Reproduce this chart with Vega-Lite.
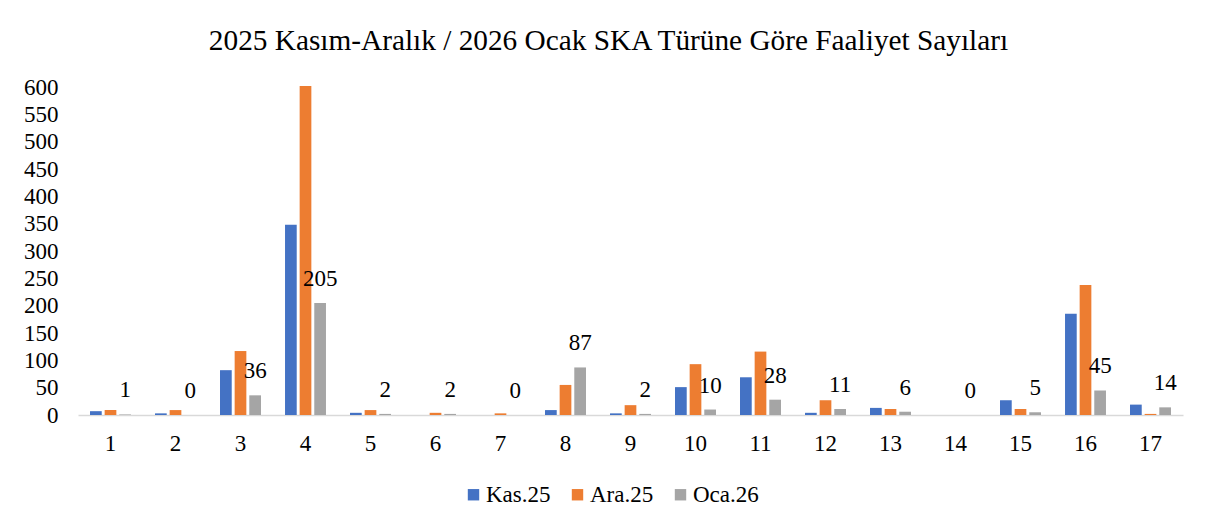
{
  "$schema": "https://vega.github.io/schema/vega-lite/v6.json",
  "width": 1105,
  "height": 328,
  "autosize": {"type": "none"},
  "padding": {"left": 78, "top": 87, "right": 32, "bottom": 115},
  "background": "white",
  "title": {
    "text": "2025 Kasım-Aralık / 2026 Ocak SKA Türüne Göre Faaliyet Sayıları",
    "font": "Liberation Serif",
    "fontSize": 29.3,
    "fontWeight": "normal",
    "color": "#000000",
    "anchor": "middle",
    "dx": -22,
    "offset": 20
  },
  "config": {
    "view": {"stroke": null},
    "font": "Liberation Serif",
    "axis": {"labelFont": "Liberation Serif"},
    "legend": {"labelFont": "Liberation Serif"},
    "text": {"font": "Liberation Serif"}
  },
  "data": {
    "values": [
      {"g": 1, "s": "Kas.25", "v": 7}, {"g": 1, "s": "Ara.25", "v": 9}, {"g": 1, "s": "Oca.26", "v": 1},
      {"g": 2, "s": "Kas.25", "v": 3}, {"g": 2, "s": "Ara.25", "v": 9}, {"g": 2, "s": "Oca.26", "v": 0},
      {"g": 3, "s": "Kas.25", "v": 82}, {"g": 3, "s": "Ara.25", "v": 117}, {"g": 3, "s": "Oca.26", "v": 36},
      {"g": 4, "s": "Kas.25", "v": 348}, {"g": 4, "s": "Ara.25", "v": 602}, {"g": 4, "s": "Oca.26", "v": 205},
      {"g": 5, "s": "Kas.25", "v": 4}, {"g": 5, "s": "Ara.25", "v": 9}, {"g": 5, "s": "Oca.26", "v": 2},
      {"g": 6, "s": "Kas.25", "v": 0}, {"g": 6, "s": "Ara.25", "v": 4}, {"g": 6, "s": "Oca.26", "v": 2},
      {"g": 7, "s": "Kas.25", "v": 0}, {"g": 7, "s": "Ara.25", "v": 3}, {"g": 7, "s": "Oca.26", "v": 0},
      {"g": 8, "s": "Kas.25", "v": 9}, {"g": 8, "s": "Ara.25", "v": 55}, {"g": 8, "s": "Oca.26", "v": 87},
      {"g": 9, "s": "Kas.25", "v": 3}, {"g": 9, "s": "Ara.25", "v": 18}, {"g": 9, "s": "Oca.26", "v": 2},
      {"g": 10, "s": "Kas.25", "v": 51}, {"g": 10, "s": "Ara.25", "v": 93}, {"g": 10, "s": "Oca.26", "v": 10},
      {"g": 11, "s": "Kas.25", "v": 69}, {"g": 11, "s": "Ara.25", "v": 116}, {"g": 11, "s": "Oca.26", "v": 28},
      {"g": 12, "s": "Kas.25", "v": 4}, {"g": 12, "s": "Ara.25", "v": 27}, {"g": 12, "s": "Oca.26", "v": 11},
      {"g": 13, "s": "Kas.25", "v": 13}, {"g": 13, "s": "Ara.25", "v": 11}, {"g": 13, "s": "Oca.26", "v": 6},
      {"g": 14, "s": "Kas.25", "v": 0}, {"g": 14, "s": "Ara.25", "v": 0}, {"g": 14, "s": "Oca.26", "v": 0},
      {"g": 15, "s": "Kas.25", "v": 27}, {"g": 15, "s": "Ara.25", "v": 11}, {"g": 15, "s": "Oca.26", "v": 5},
      {"g": 16, "s": "Kas.25", "v": 185}, {"g": 16, "s": "Ara.25", "v": 238}, {"g": 16, "s": "Oca.26", "v": 45},
      {"g": 17, "s": "Kas.25", "v": 19}, {"g": 17, "s": "Ara.25", "v": 2}, {"g": 17, "s": "Oca.26", "v": 14}
    ]
  },
  "encoding": {
    "x": {
      "field": "g",
      "type": "ordinal",
      "scale": {"paddingInner": 0.37, "paddingOuter": 0.185},
      "axis": {
        "title": null,
        "labelAngle": 0,
        "labelFont": "Liberation Serif",
        "labelFontSize": 23,
        "labelColor": "#000000",
        "labelPadding": 17,
        "ticks": false,
        "domainColor": "#D9D9D9",
        "domainWidth": 1.5
      }
    },
    "xOffset": {
      "field": "s",
      "type": "nominal",
      "sort": ["Kas.25", "Ara.25", "Oca.26"],
      "scale": {"domain": ["Kas.25", "Ara.25", "Oca.26"], "paddingInner": 0.2, "paddingOuter": 0}
    },
    "y": {
      "field": "v",
      "type": "quantitative",
      "scale": {"domain": [0, 600], "nice": false},
      "axis": {
        "title": null,
        "values": [0, 50, 100, 150, 200, 250, 300, 350, 400, 450, 500, 550, 600],
        "grid": false,
        "domain": false,
        "ticks": false,
        "labelFont": "Liberation Serif",
        "labelFontSize": 23,
        "labelColor": "#000000",
        "labelPadding": 20
      }
    }
  },
  "layer": [
    {
      "mark": {"type": "bar"},
      "encoding": {
        "color": {
          "field": "s",
          "type": "nominal",
          "sort": ["Kas.25", "Ara.25", "Oca.26"],
          "scale": {"domain": ["Kas.25", "Ara.25", "Oca.26"], "range": ["#4472C4", "#ED7D31", "#A5A5A5"]},
          "legend": {
            "title": null,
            "orient": "none",
            "direction": "horizontal",
            "legendX": 384,
            "legendY": 396,
            "symbolType": "square",
            "symbolSize": 130,
            "symbolStrokeWidth": 0,
            "labelFont": "Liberation Serif",
            "labelFontSize": 23,
            "labelColor": "#000000",
            "labelOffset": 1,
            "columnPadding": 15
          }
        }
      }
    },
    {
      "transform": [{"filter": "datum.s === 'Oca.26'"}],
      "mark": {
        "type": "text",
        "font": "Liberation Serif",
        "fontSize": 23,
        "color": "#000000",
        "baseline": "alphabetic",
        "dy": -17
      },
      "encoding": {
        "text": {"field": "v", "type": "quantitative"}
      }
    }
  ]
}
